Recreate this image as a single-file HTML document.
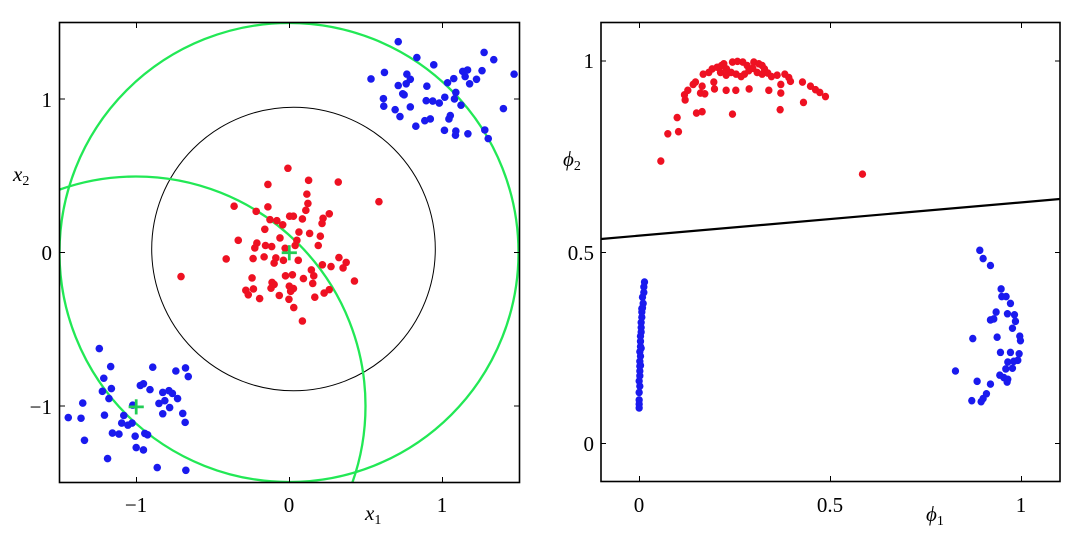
<!DOCTYPE html>
<html style="margin:0;overflow:hidden"><head><meta charset="utf-8"><style>
html,body{margin:0;padding:0;background:#fff;width:1085px;height:539px;overflow:hidden}
svg{display:block}
text{font-family:"Liberation Serif","DejaVu Serif",serif;font-size:21px;fill:#000}
.it{font-style:italic}
</style></head><body>
<svg width="1085" height="539" viewBox="0 0 1085 539" xmlns="http://www.w3.org/2000/svg" font-family="Liberation Serif, serif">
<defs>
<clipPath id="cl"><rect x="59.5" y="22.5" width="460" height="460"/></clipPath>
<clipPath id="cr"><rect x="601" y="22.5" width="459" height="459"/></clipPath>
</defs>
<g clip-path="url(#cl)">
<circle cx="293.5" cy="249" r="141.8" fill="none" stroke="#000" stroke-width="1"/>
<circle cx="289" cy="252.5" r="229.5" fill="none" stroke="#22e855" stroke-width="2.3"/>
<circle cx="136" cy="406" r="229.5" fill="none" stroke="#22e855" stroke-width="2.3"/>
<g transform="scale(0.3448)">
<g fill="#1a1aee">
<circle cx="1155" cy="121" r="11"/><circle cx="1209" cy="167" r="11"/><circle cx="1258" cy="188" r="11"/><circle cx="1404" cy="152" r="11"/><circle cx="1432" cy="173" r="11"/><circle cx="1491" cy="215" r="11"/><circle cx="1076" cy="229" r="11"/><circle cx="1115" cy="210" r="11"/><circle cx="1180" cy="215" r="11"/><circle cx="1190" cy="230" r="11"/><circle cx="1155" cy="248" r="11"/><circle cx="1178" cy="243" r="11"/><circle cx="1238" cy="250" r="11"/><circle cx="1298" cy="240" r="11"/><circle cx="1316" cy="228" r="11"/><circle cx="1342" cy="207" r="11"/><circle cx="1356" cy="203" r="11"/><circle cx="1349" cy="222" r="11"/><circle cx="1398" cy="205" r="11"/><circle cx="1382" cy="230" r="11"/><circle cx="1362" cy="243" r="11"/><circle cx="1168" cy="272" r="11"/><circle cx="1172" cy="275" r="11"/><circle cx="1112" cy="286" r="11"/><circle cx="1113" cy="308" r="11"/><circle cx="1146" cy="318" r="11"/><circle cx="1160" cy="338" r="11"/><circle cx="1190" cy="310" r="11"/><circle cx="1236" cy="292" r="11"/><circle cx="1255" cy="293" r="11"/><circle cx="1274" cy="299" r="11"/><circle cx="1290" cy="282" r="11"/><circle cx="1322" cy="268" r="11"/><circle cx="1318" cy="287" r="11"/><circle cx="1337" cy="305" r="11"/><circle cx="1232" cy="350" r="11"/><circle cx="1248" cy="345" r="11"/><circle cx="1206" cy="366" r="11"/><circle cx="1306" cy="335" r="11"/><circle cx="1302" cy="345" r="11"/><circle cx="1289" cy="378" r="11"/><circle cx="1322" cy="380" r="11"/><circle cx="1321" cy="392" r="11"/><circle cx="1357" cy="388" r="11"/><circle cx="1406" cy="377" r="11"/><circle cx="1416" cy="402" r="11"/><circle cx="1460" cy="315" r="11"/>
<circle cx="288" cy="1011" r="11"/><circle cx="321" cy="1063" r="11"/><circle cx="301" cy="1097" r="11"/><circle cx="297" cy="1135" r="11"/><circle cx="323" cy="1127" r="11"/><circle cx="316" cy="1156" r="11"/><circle cx="443" cy="1065" r="11"/><circle cx="510" cy="1076" r="11"/><circle cx="538" cy="1067" r="11"/><circle cx="546" cy="1092" r="11"/><circle cx="407" cy="1118" r="11"/><circle cx="416" cy="1113" r="11"/><circle cx="435" cy="1130" r="11"/><circle cx="472" cy="1138" r="11"/><circle cx="490" cy="1133" r="11"/><circle cx="500" cy="1141" r="11"/><circle cx="515" cy="1156" r="11"/><circle cx="478" cy="1162" r="11"/><circle cx="461" cy="1170" r="11"/><circle cx="492" cy="1182" r="11"/><circle cx="472" cy="1200" r="11"/><circle cx="530" cy="1199" r="11"/><circle cx="537" cy="1225" r="11"/><circle cx="240" cy="1169" r="11"/><circle cx="198" cy="1211" r="11"/><circle cx="235" cy="1213" r="11"/><circle cx="303" cy="1204" r="11"/><circle cx="359" cy="1205" r="11"/><circle cx="353" cy="1227" r="11"/><circle cx="371" cy="1233" r="11"/><circle cx="383" cy="1227" r="11"/><circle cx="392" cy="1265" r="11"/><circle cx="420" cy="1257" r="11"/><circle cx="428" cy="1261" r="11"/><circle cx="326" cy="1256" r="11"/><circle cx="345" cy="1259" r="11"/><circle cx="245" cy="1277" r="11"/><circle cx="395" cy="1298" r="11"/><circle cx="416" cy="1305" r="11"/><circle cx="312" cy="1330" r="11"/><circle cx="456" cy="1356" r="11"/><circle cx="539" cy="1364" r="11"/><circle cx="385" cy="1175" r="11"/>
</g>
<g fill="#ee1122">
<circle cx="835" cy="488" r="11"/><circle cx="777" cy="535" r="11"/><circle cx="895" cy="523" r="11"/><circle cx="981" cy="528" r="11"/><circle cx="1099" cy="585" r="11"/><circle cx="679" cy="598" r="11"/><circle cx="777" cy="600" r="11"/><circle cx="743" cy="613" r="11"/><circle cx="890" cy="563" r="11"/><circle cx="893" cy="590" r="11"/><circle cx="887" cy="610" r="11"/><circle cx="955" cy="620" r="11"/><circle cx="937" cy="633" r="11"/><circle cx="934" cy="648" r="11"/><circle cx="840" cy="627" r="11"/><circle cx="851" cy="627" r="11"/><circle cx="877" cy="635" r="11"/><circle cx="783" cy="637" r="11"/><circle cx="803" cy="640" r="11"/><circle cx="820" cy="652" r="11"/><circle cx="768" cy="665" r="11"/><circle cx="812" cy="690" r="11"/><circle cx="867" cy="673" r="11"/><circle cx="898" cy="677" r="11"/><circle cx="929" cy="685" r="11"/><circle cx="923" cy="712" r="11"/><circle cx="691" cy="697" r="11"/><circle cx="745" cy="705" r="11"/><circle cx="739" cy="719" r="11"/><circle cx="770" cy="712" r="11"/><circle cx="788" cy="715" r="11"/><circle cx="861" cy="697" r="11"/><circle cx="856" cy="712" r="11"/><circle cx="827" cy="720" r="11"/><circle cx="656" cy="751" r="11"/><circle cx="734" cy="750" r="11"/><circle cx="766" cy="745" r="11"/><circle cx="800" cy="748" r="11"/><circle cx="795" cy="763" r="11"/><circle cx="822" cy="755" r="11"/><circle cx="865" cy="755" r="11"/><circle cx="983" cy="747" r="11"/><circle cx="1004" cy="761" r="11"/><circle cx="995" cy="777" r="11"/><circle cx="935" cy="768" r="11"/><circle cx="960" cy="773" r="11"/><circle cx="525" cy="802" r="11"/><circle cx="731" cy="806" r="11"/><circle cx="789" cy="819" r="11"/><circle cx="828" cy="800" r="11"/><circle cx="848" cy="797" r="11"/><circle cx="880" cy="808" r="11"/><circle cx="903" cy="783" r="11"/><circle cx="910" cy="800" r="11"/><circle cx="907" cy="822" r="11"/><circle cx="1028" cy="815" r="11"/><circle cx="713" cy="842" r="11"/><circle cx="735" cy="838" r="11"/><circle cx="720" cy="855" r="11"/><circle cx="786" cy="836" r="11"/><circle cx="795" cy="825" r="11"/><circle cx="839" cy="830" r="11"/><circle cx="851" cy="837" r="11"/><circle cx="810" cy="857" r="11"/><circle cx="843" cy="845" r="11"/><circle cx="753" cy="866" r="11"/><circle cx="838" cy="868" r="11"/><circle cx="913" cy="862" r="11"/><circle cx="940" cy="850" r="11"/><circle cx="955" cy="840" r="11"/><circle cx="852" cy="892" r="11"/><circle cx="877" cy="931" r="11"/>
</g>
<g stroke="#22cc55" stroke-width="8">
<line x1="373" y1="1180" x2="417" y2="1180"/><line x1="395" y1="1158" x2="395" y2="1202"/>
<line x1="817" y1="733" x2="861" y2="733"/><line x1="839" y1="711" x2="839" y2="755"/>
</g>
</g>
</g>
<rect x="59.5" y="22.5" width="460" height="460" fill="none" stroke="#000" stroke-width="1.6"/>
<g stroke="#000" stroke-width="1">
<line x1="136.5" y1="482" x2="136.5" y2="477"/><line x1="289.5" y1="482" x2="289.5" y2="477"/><line x1="442.5" y1="482" x2="442.5" y2="477"/>
<line x1="136.5" y1="23" x2="136.5" y2="28"/><line x1="289.5" y1="23" x2="289.5" y2="28"/><line x1="442.5" y1="23" x2="442.5" y2="28"/>
<line x1="60" y1="99" x2="65" y2="99"/><line x1="60" y1="252.5" x2="65" y2="252.5"/><line x1="60" y1="406" x2="65" y2="406"/>
<line x1="519" y1="99" x2="514" y2="99"/><line x1="519" y1="252.5" x2="514" y2="252.5"/><line x1="519" y1="406" x2="514" y2="406"/>
</g>
<text x="136" y="512" text-anchor="middle">−1</text>
<text x="289" y="512" text-anchor="middle">0</text>
<text x="442" y="512" text-anchor="middle">1</text>
<text x="52" y="107" text-anchor="end">1</text>
<text x="52" y="260" text-anchor="end">0</text>
<text x="52" y="414" text-anchor="end">−1</text>
<text x="365" y="520" class="it">x<tspan font-size="14" dy="4" font-style="normal">1</tspan></text>
<text x="13" y="181" class="it">x<tspan font-size="14" dy="4" font-style="normal">2</tspan></text>

<g clip-path="url(#cr)">
<line x1="601" y1="239" x2="1060" y2="199" stroke="#000" stroke-width="2.2"/>
<g transform="translate(560.5,0) scale(0.3333,0.3448)">
<g fill="#ee1122">
<circle cx="301" cy="467" r="11"/><circle cx="322" cy="388" r="11"/><circle cx="354" cy="382" r="11"/><circle cx="350" cy="341" r="11"/><circle cx="408" cy="328" r="11"/><circle cx="425" cy="324" r="11"/><circle cx="516" cy="331" r="11"/><circle cx="659" cy="318" r="11"/><circle cx="729" cy="297" r="11"/><circle cx="906" cy="505" r="11"/><circle cx="374" cy="290" r="11"/><circle cx="372" cy="275" r="11"/><circle cx="382" cy="262" r="11"/><circle cx="398" cy="245" r="11"/><circle cx="405" cy="238" r="11"/><circle cx="420" cy="270" r="11"/><circle cx="433" cy="272" r="11"/><circle cx="425" cy="250" r="11"/><circle cx="462" cy="258" r="11"/><circle cx="460" cy="238" r="11"/><circle cx="428" cy="215" r="11"/><circle cx="445" cy="210" r="11"/><circle cx="455" cy="200" r="11"/><circle cx="470" cy="195" r="11"/><circle cx="483" cy="190" r="11"/><circle cx="490" cy="185" r="11"/><circle cx="497" cy="218" r="11"/><circle cx="497" cy="262" r="11"/><circle cx="526" cy="262" r="11"/><circle cx="566" cy="258" r="11"/><circle cx="625" cy="262" r="11"/><circle cx="661" cy="270" r="11"/><circle cx="661" cy="245" r="11"/><circle cx="690" cy="236" r="11"/><circle cx="726" cy="238" r="11"/><circle cx="516" cy="180" r="11"/><circle cx="531" cy="178" r="11"/><circle cx="547" cy="180" r="11"/><circle cx="560" cy="190" r="11"/><circle cx="580" cy="180" r="11"/><circle cx="595" cy="185" r="11"/><circle cx="605" cy="190" r="11"/><circle cx="612" cy="200" r="11"/><circle cx="622" cy="212" r="11"/><circle cx="633" cy="222" r="11"/><circle cx="650" cy="218" r="11"/><circle cx="673" cy="215" r="11"/><circle cx="685" cy="225" r="11"/><circle cx="498" cy="200" r="11"/><circle cx="512" cy="210" r="11"/><circle cx="527" cy="215" r="11"/><circle cx="542" cy="222" r="11"/><circle cx="552" cy="215" r="11"/><circle cx="565" cy="205" r="11"/><circle cx="577" cy="198" r="11"/><circle cx="590" cy="210" r="11"/><circle cx="605" cy="215" r="11"/><circle cx="480" cy="210" r="11"/><circle cx="750" cy="250" r="11"/><circle cx="765" cy="260" r="11"/><circle cx="778" cy="268" r="11"/><circle cx="795" cy="280" r="11"/>
</g>
<g fill="#1a1aee">
<circle cx="252" cy="818" r="11"/><circle cx="250" cy="832" r="11"/><circle cx="250" cy="848" r="11"/><circle cx="246" cy="862" r="11"/><circle cx="248" cy="880" r="11"/><circle cx="246" cy="893" r="11"/><circle cx="244" cy="905" r="11"/><circle cx="244" cy="920" r="11"/><circle cx="242" cy="935" r="11"/><circle cx="242" cy="950" r="11"/><circle cx="242" cy="963" r="11"/><circle cx="240" cy="975" r="11"/><circle cx="240" cy="990" r="11"/><circle cx="240" cy="1005" r="11"/><circle cx="238" cy="1020" r="11"/><circle cx="240" cy="1033" r="11"/><circle cx="238" cy="1048" r="11"/><circle cx="238" cy="1062" r="11"/><circle cx="238" cy="1076" r="11"/><circle cx="238" cy="1090" r="11"/><circle cx="236" cy="1105" r="11"/><circle cx="238" cy="1120" r="11"/><circle cx="236" cy="1138" r="11"/><circle cx="236" cy="1160" r="11"/><circle cx="236" cy="1172" r="11"/><circle cx="236" cy="1183" r="11"/><circle cx="244" cy="895" r="11"/><circle cx="242" cy="1010" r="11"/><circle cx="240" cy="1060" r="11"/>
<circle cx="1258" cy="726" r="11"/><circle cx="1268" cy="750" r="11"/><circle cx="1290" cy="770" r="11"/><circle cx="1322" cy="838" r="11"/><circle cx="1324" cy="860" r="11"/><circle cx="1337" cy="860" r="11"/><circle cx="1350" cy="880" r="11"/><circle cx="1307" cy="905" r="11"/><circle cx="1290" cy="928" r="11"/><circle cx="1300" cy="925" r="11"/><circle cx="1341" cy="910" r="11"/><circle cx="1362" cy="913" r="11"/><circle cx="1365" cy="932" r="11"/><circle cx="1356" cy="952" r="11"/><circle cx="1237" cy="982" r="11"/><circle cx="1310" cy="978" r="11"/><circle cx="1378" cy="975" r="11"/><circle cx="1380" cy="988" r="11"/><circle cx="1320" cy="1022" r="11"/><circle cx="1350" cy="1022" r="11"/><circle cx="1376" cy="1026" r="11"/><circle cx="1342" cy="1050" r="11"/><circle cx="1360" cy="1048" r="11"/><circle cx="1372" cy="1045" r="11"/><circle cx="1336" cy="1070" r="11"/><circle cx="1356" cy="1068" r="11"/><circle cx="1185" cy="1076" r="11"/><circle cx="1318" cy="1088" r="11"/><circle cx="1330" cy="1095" r="11"/><circle cx="1342" cy="1100" r="11"/><circle cx="1340" cy="1108" r="11"/><circle cx="1250" cy="1106" r="11"/><circle cx="1290" cy="1114" r="11"/><circle cx="1278" cy="1142" r="11"/><circle cx="1268" cy="1156" r="11"/><circle cx="1234" cy="1162" r="11"/><circle cx="1262" cy="1165" r="11"/>
</g>
</g>
</g>
<rect x="601" y="22.5" width="459" height="459" fill="none" stroke="#000" stroke-width="1.6"/>
<g stroke="#000" stroke-width="1">
<line x1="639.5" y1="481" x2="639.5" y2="476"/><line x1="830.5" y1="481" x2="830.5" y2="476"/><line x1="1021.5" y1="481" x2="1021.5" y2="476"/>
<line x1="639.5" y1="23" x2="639.5" y2="28"/><line x1="830.5" y1="23" x2="830.5" y2="28"/><line x1="1021.5" y1="23" x2="1021.5" y2="28"/>
<line x1="601" y1="61" x2="606" y2="61"/><line x1="601" y1="252.5" x2="606" y2="252.5"/><line x1="601" y1="443.5" x2="606" y2="443.5"/>
<line x1="1060" y1="61" x2="1055" y2="61"/><line x1="1060" y1="252.5" x2="1055" y2="252.5"/><line x1="1060" y1="443.5" x2="1055" y2="443.5"/>
</g>
<text x="639" y="512" text-anchor="middle">0</text>
<text x="830" y="512" text-anchor="middle">0.5</text>
<text x="1021" y="512" text-anchor="middle">1</text>
<text x="594" y="68" text-anchor="end">1</text>
<text x="594" y="260" text-anchor="end">0.5</text>
<text x="594" y="451" text-anchor="end">0</text>
<text x="926" y="521" class="it">ϕ<tspan font-size="14" dy="4" font-style="normal">1</tspan></text>
<text x="563" y="166" class="it">ϕ<tspan font-size="14" dy="4" font-style="normal">2</tspan></text>
</svg>
</body></html>
